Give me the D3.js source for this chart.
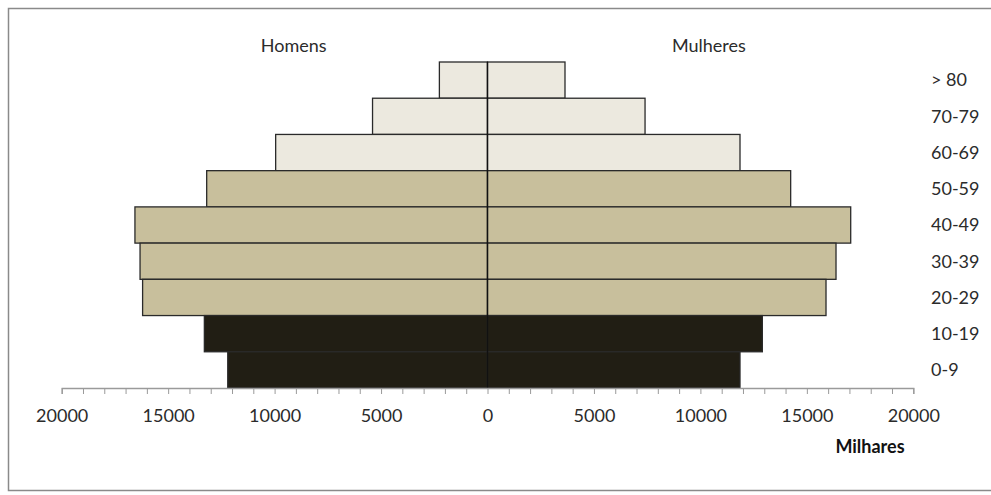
<!DOCTYPE html>
<html>
<head>
<meta charset="utf-8">
<script src="https://cdn.jsdelivr.net/npm/d3@7"></script>
<style>
  html, body { margin: 0; padding: 0; background: #fff; }
  svg { display: block; }
  text { font-family: Lato, "Open Sans", "Liberation Sans", sans-serif; fill: #2b2b2b; }
</style>
</head>
<body>
<svg id="chart" width="991" height="495"></svg>
<script>
// Age groups, top to bottom
const ageGroups = ["> 80", "70-79", "60-69", "50-59", "40-49", "30-39", "20-29", "10-19", "0-9"];
// Population in thousands
const homens   = [2260, 5400, 9950, 13190, 16560, 16320, 16200, 13300, 12200];
const mulheres = [3640, 7400, 11860, 14240, 17060, 16370, 15900, 12910, 11860];
// Colour group per age band: elderly, adult, young
const faixa = ["idoso", "idoso", "idoso", "adulto", "adulto", "adulto", "adulto", "jovem", "jovem"];
const majorTicks = [-20000, -15000, -10000, -5000, 0, 5000, 10000, 15000, 20000];
const minorTicks = d3.range(-20000, 20001, 1000);
const sideLabels = ["Homens", "Mulheres"];
const unitLabel = "Milhares";

const FONT = "Lato, 'Open Sans', 'Liberation Sans', sans-serif";

const colour = d3.scaleOrdinal()
  .domain(["idoso", "adulto", "jovem"])
  .range(["#ece9df", "#c8bf9c", "#211e14"]);

const svg = d3.select("#chart");

// Outer frame
svg.append("rect")
  .attr("x", 8.5).attr("y", 8.5)
  .attr("width", 990).attr("height", 482)
  .attr("fill", "none").attr("stroke", "#8a8a8a").attr("stroke-width", 1.5);

const x = d3.scaleLinear().domain([-20000, 20000]).range([61.7, 913.3]);
const y = d3.scaleBand().domain(ageGroups).range([62, 388]).padding(0);

const rows = ageGroups.map((g, i) => ({ g, h: homens[i], m: mulheres[i], f: faixa[i] }));

// Men to the left of zero
svg.append("g").selectAll("rect").data(rows).join("rect")
  .attr("x", d => x(-d.h))
  .attr("y", d => y(d.g))
  .attr("width", d => x(0) - x(-d.h))
  .attr("height", y.bandwidth())
  .attr("fill", d => colour(d.f))
  .attr("stroke", "#2a2a2a").attr("stroke-width", 1.3);

// Women to the right of zero
svg.append("g").selectAll("rect").data(rows).join("rect")
  .attr("x", x(0))
  .attr("y", d => y(d.g))
  .attr("width", d => x(d.m) - x(0))
  .attr("height", y.bandwidth())
  .attr("fill", d => colour(d.f))
  .attr("stroke", "#2a2a2a").attr("stroke-width", 1.3);

// Centre divider
svg.append("line")
  .attr("x1", x(0)).attr("x2", x(0))
  .attr("y1", y.range()[0]).attr("y2", y.range()[1])
  .attr("stroke", "#111").attr("stroke-width", 1.3);

// Horizontal axis with minor ticks every 1000
const axisY = 388;
const minorAxis = svg.append("g")
  .attr("transform", `translate(0,${axisY})`)
  .call(d3.axisBottom(x).tickValues(minorTicks).tickSize(6).tickFormat(""));
minorAxis.select(".domain").attr("stroke", "#9a9a9a").attr("stroke-width", 1.3);
minorAxis.selectAll(".tick line").attr("stroke", "#9a9a9a");

const labelAxis = svg.append("g")
  .attr("transform", `translate(0,${axisY})`)
  .call(d3.axisBottom(x).tickValues(majorTicks).tickSize(0).tickPadding(21)
    .tickFormat(d => String(Math.abs(d))));
labelAxis.select(".domain").remove();
labelAxis.selectAll("text")
  .attr("font-family", FONT)
  .attr("font-size", 18).attr("fill", "#2b2b2b");

// Age group labels on the right
svg.append("g").selectAll("text").data(ageGroups).join("text")
  .attr("x", 931)
  .attr("y", d => y(d) + y.bandwidth() / 2)
  .attr("dy", "0.35em")
  .attr("font-size", 18)
  .text(d => d);

// Side headings
svg.append("text").attr("x", x(-9100)).attr("y", 52)
  .attr("text-anchor", "middle").attr("font-size", 18).text(sideLabels[0]);
svg.append("text").attr("x", x(10400)).attr("y", 52)
  .attr("text-anchor", "middle").attr("font-size", 18).text(sideLabels[1]);

// Unit label
svg.append("text").attr("x", 870).attr("y", 453)
  .attr("text-anchor", "middle").attr("font-size", 18).attr("font-weight", "bold")
  .style("fill", "#111").text(unitLabel);
</script>
</body>
</html>
